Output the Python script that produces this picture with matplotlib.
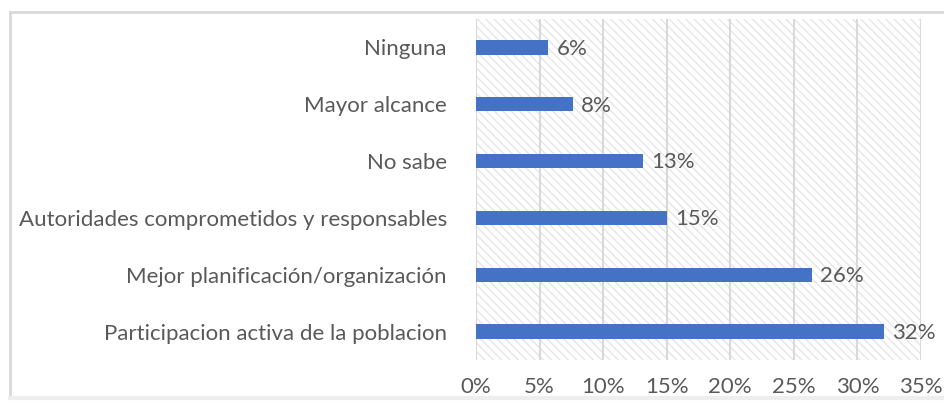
import matplotlib.pyplot as plt
from matplotlib.patches import Rectangle
from matplotlib.lines import Line2D

# Respuestas (de abajo hacia arriba) y porcentajes
categorias = ["Participacion activa de la poblacion",
              "Mejor planificación/organización",
              "Autoridades comprometidos y responsables",
              "No sabe",
              "Mayor alcance",
              "Ninguna"]
valores = [32.1, 26.4, 15.0, 13.1, 7.6, 5.7]
ticks = [0, 5, 10, 15, 20, 25, 30, 35]

gris = '#595959'
fs = 16
plt.rcParams['font.family'] = ['Lato', 'DejaVu Sans']
plt.rcParams['hatch.linewidth'] = 1.0

fig = plt.figure(figsize=(9.44, 4.04), dpi=100)
ax = fig.add_axes([0.5042, 0.1089, 0.4714, 0.8441])

# fondo rayado del area de trazado
ax.add_patch(Rectangle((0, 0), 1, 1, transform=ax.transAxes, facecolor='white',
                       edgecolor='#E6E6E6', hatch='\\\\\\\\', linewidth=0, zorder=0))

y = list(range(len(categorias)))
ax.barh(y, valores, height=0.25, color='#4472C4', zorder=3)
for yi, v in zip(y, valores):
    ax.annotate(f"{round(v):.0f}%", (v, yi), xytext=(6, -1), textcoords='offset points',
                va='center', ha='left', fontsize=fs, color=gris)

ax.set_xlim(0, 35)
ax.set_ylim(-0.5, len(categorias) - 0.5)
ax.set_xticks(ticks)
ax.set_xticklabels([f"{t}%" for t in ticks])
ax.set_yticks(y)
ax.set_yticklabels(categorias)
ax.tick_params(axis='x', length=0, pad=12, labelsize=fs, labelcolor=gris)
ax.tick_params(axis='y', length=0, pad=21, labelsize=fs, labelcolor=gris)
ax.grid(axis='x', color='#D9D9D9', linewidth=1.5, zorder=1)
ax.set_axisbelow(True)
for s in ax.spines.values():
    s.set_visible(False)

# marco del grafico
fig.add_artist(Line2D([0.0106, 0.0106], [0.015, 0.97], color='#D9D9D9', lw=2))
fig.add_artist(Line2D([0.0106, 1.0], [0.97, 0.97], color='#D9D9D9', lw=2))
fig.add_artist(Line2D([0.0106, 1.0], [0.015, 0.015], color='#EEEEEE', lw=3))

fig.savefig('out.png', dpi=100)
